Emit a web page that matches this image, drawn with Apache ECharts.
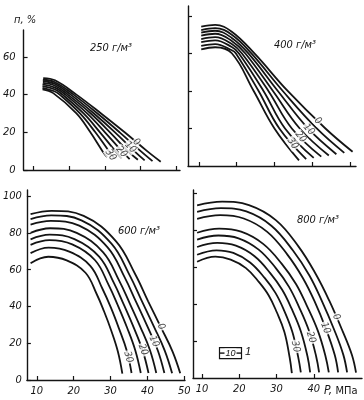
<!DOCTYPE html>
<html><head><meta charset="utf-8">
<script src="https://cdn.jsdelivr.net/npm/echarts@6/dist/echarts.min.js"></script>
<style>html,body{margin:0;padding:0;background:#fff}#c{width:364px;height:400px}</style>
</head><body><div id="c"></div>
<script>
// Curve parameter values (8 curves per panel, outer to inner)
const curveNames = ['0','5','10','15','20','25','30','35'];
const xTicks = [10,20,30,40,50];
const xTicksBR = [10,20,30,40];
const yTicks250 = [0,20,40,60];
const yTicks400 = [20,40,60,80];
const yTicks600 = [0,20,40,60,80,100];
const yTicks800 = [20,40,60,80,100];

// 250 g/m3 : [P, n]
const curves250 = [
 [[12.7,48.8],[16,47.6],[22,40],[28.9,30],[35.5,20],[41.8,10],[45.6,4.4]],
 [[12.6,47.9],[16,46.6],[21.2,40],[27.9,30],[34.1,20],[40,10],[43.3,4.7]],
 [[12.6,47.1],[16,45.7],[20.4,40],[26.9,30],[32.8,20],[38.2,10],[41.1,5.1]],
 [[12.6,46.2],[16,44.7],[19.6,40],[26,30],[31.4,20],[36.4,10],[39.2,5.4]],
 [[12.5,45.4],[16,43.7],[18.9,40],[25,30],[30,20],[34.7,10],[36.9,5.8]],
 [[12.5,44.5],[16,42.7],[18.1,40],[24,30],[28.6,20],[32.9,10],[34.7,6.1]],
 [[12.5,43.6],[15.8,41.8],[17.3,40],[23,30],[27.3,20],[31.1,10],[32.5,6.5]],
 [[12.5,42.8],[15.5,40.8],[22,30],[25.9,20],[29.3,10],[30.6,6.8]]
];
// 400 g/m3
const curves400 = [
 [[10.6,74.3],[14.3,75.2],[18.7,71.6],[24.7,60],[33.5,40],[43.5,20],[50.7,7.6]],
 [[10.6,72.5],[14.3,73.5],[18.7,70],[23.9,60],[32.2,40],[41.2,20],[48.5,7]],
 [[10.6,71.1],[14.3,72.1],[18.7,68.3],[23.1,60],[30.9,40],[38.9,20],[46.4,6.3]],
 [[10.6,69.5],[14.3,70.5],[18.7,66.7],[22.3,60],[29.6,40],[36.7,20],[44.4,5.6]],
 [[10.6,67.7],[14.3,68.7],[18.7,65],[21.4,60],[28.4,40],[34.6,20],[42.4,5]],
 [[10.6,66],[14.3,67],[18.7,63.4],[20.6,60],[27.1,40],[32.8,20],[40.4,4.3]],
 [[10.6,64],[14.3,65],[18.7,61.7],[19.8,60],[25.8,40],[31.3,20],[38.4,3.7]],
 [[10.6,62.2],[14.3,63.3],[18.7,60.1],[24.5,40],[30,20],[36.5,3]]
];
// 600 g/m3
const curves600 = [
 [[8.3,90.2],[14,92],[22.7,89.2],[31.5,75.4],[36.7,57.5],[40.2,42.8],[43.7,28.5],[46.8,15.6],[48.9,3.7]],
 [[8.3,87.5],[13.9,89.5],[22.1,86.8],[30.3,74],[35.2,56.9],[38.5,42.9],[41.8,28.9],[44.7,16],[46.7,3.7]],
 [[8.3,84.5],[13.8,86.5],[21.5,83.9],[29.2,72.1],[33.8,55.9],[36.9,42.6],[40,29.1],[42.8,16.2],[44.6,3.8]],
 [[8.3,80],[13.6,82.5],[20.8,80],[28,69.4],[32.3,54.2],[35.2,41.7],[38.1,28.8],[40.7,16.2],[42.4,3.8]],
 [[8.3,76.5],[13.5,79],[20.2,76.6],[26.9,67.1],[30.9,52.8],[33.6,41],[36.3,28.5],[38.7,16.1],[40.3,3.8]],
 [[8.3,73.5],[13.4,76],[19.6,73.7],[25.8,65.1],[29.5,51.6],[32,40.5],[34.5,28.4],[36.7,16.2],[38.2,3.8]],
 [[8.3,69],[13.2,72],[18.8,69.8],[24.5,62.1],[27.8,49.6],[30.1,39.3],[32.3,27.9],[34.4,15.9],[35.7,3.8]],
 [[8.3,63.5],[13.1,67],[18.1,65],[23.2,58.3],[26.2,46.9],[28.2,37.5],[30.2,26.8],[32,15.4],[33.2,3.5]]
];
// 800 g/m3
const curves800 = [
 [[8.7,93.3],[15.4,95.3],[22.6,93.4],[29.8,85.3],[35.9,71],[40.5,56.2],[44.1,41.9],[47.7,25.3],[50.2,12.4],[51.3,2.9]],
 [[8.7,89.8],[15.1,91.8],[21.9,90],[28.6,82.3],[34.4,68.9],[38.8,55.4],[42.1,41.8],[45.5,25.8],[47.9,12.5],[48.9,3]],
 [[8.7,86],[14.9,88],[21.2,86.2],[27.5,79],[32.9,66.7],[37,54.2],[40.2,41.4],[43.3,26.2],[45.6,12.4],[46.5,3]],
 [[8.7,78.5],[14.6,80.7],[20.5,79.1],[26.4,72.5],[31.4,61.7],[35.2,50.8],[38.1,39.1],[41.1,25.3],[43.1,11.9],[44,3]],
 [[8.7,74.8],[14.4,77],[19.8,75.5],[25.2,69.4],[29.8,59.4],[33.3,49.4],[36,38.5],[38.7,25.5],[40.6,11.8],[41.4,3]],
 [[8.7,70.8],[14.1,73],[19.1,71.5],[24.1,65.8],[28.3,56.7],[31.5,47.7],[34,37.6],[36.5,25.3],[38.3,11.6],[39,3]],
 [[8.7,66.6],[13.9,69],[18.4,67.6],[22.9,62.4],[26.8,54.1],[29.7,46],[32,36.6],[34.2,25.1],[35.8,11.3],[36.5,3]],
 [[8.7,62.8],[13.6,65.6],[17.7,64],[21.8,59.4],[25.3,51.8],[27.9,44.6],[30,35.8],[32.1,24.9],[33.5,11.2],[34.1,2.6]]
];
// curve labels placed on curves: [P, n, text]
const labels250 = [[38.8,14.8,'0'],[37.1,12,'10'],[34.6,9.6,'20'],[31.6,8,'30']];
const labels400 = [[41.5,24,'0'],[39.1,19.5,'10'],[36.9,15.5,'20'],[34.8,12,'30']];
const labels600 = [[43.7,29,'0'],[41.8,21,'10'],[38.8,16.5,'20'],[34.8,12.5,'30']];
const labels800 = [[46.0,33,'0'],[43.1,27,'10'],[39.2,22,'20'],[35.1,17,'30']];

const FONT = "'Liberation Sans Narrow','DejaVu Sans Condensed','Liberation Sans',sans-serif";
const INK = '#141414';
const rot = [[-42,-46,-50,-56],[-45,-48,-52,-56],[-64,-66,-69,-74],[-66,-68,-74,-77]];

const grids = [
 {left:22, top:30, width:158, height:140},
 {left:188, top:6, width:168, height:160},
 {left:25, top:190, width:160, height:190},
 {left:193, top:190, width:169, height:188}
];
const xr = [[7.2,51],[7.1,51.6],[7.3,50.2],[7.6,52.9]];
const yr = [[0,74.3],[0,85.3],[0,103.3],[0,101.6]];
const xt = [xTicks, xTicks, xTicks, xTicksBR];
const xl = [false,false,true,true];
const yt = [yTicks250, yTicks400, yTicks600, yTicks800];
const yl = [true,false,true,false];
const ylm = [8,5,5,5];

const labelStyle = {fontStyle:'italic', fontSize:11, color:INK, fontFamily:FONT};

const xAxis = grids.map((g,i)=>({
  type:'value', gridIndex:i, min:xr[i][0], max:xr[i][1],
  axisLine:{show:true, onZero:false, lineStyle:{color:INK, width:1.4}},
  axisTick:{show:true, inside:true, length:4, customValues:xt[i], lineStyle:{color:INK, width:1.2}},
  axisLabel:Object.assign({show:xl[i], customValues:xt[i], margin:6}, labelStyle),
  splitLine:{show:false}
}));
const yAxis = grids.map((g,i)=>({
  type:'value', gridIndex:i, min:yr[i][0], max:yr[i][1],
  axisLine:{show:true, onZero:false, lineStyle:{color:INK, width:1.4}},
  axisTick:{show:true, inside:true, length:4, customValues:yt[i], lineStyle:{color:INK, width:1.2}},
  axisLabel:Object.assign({show:yl[i], customValues:yt[i], margin:ylm[i]}, labelStyle),
  splitLine:{show:false}
}));

const series = [];
[curves250, curves400, curves600, curves800].forEach((curves, gi)=>{
  curves.forEach((d, ci)=>{
    series.push({type:'line', name:curveNames[ci], xAxisIndex:gi, yAxisIndex:gi, data:d,
      smooth:0.4, symbol:'none', silent:true, z:2,
      lineStyle:{color:INK, width:1.8}});
  });
});
[labels250, labels400, labels600, labels800].forEach((labs, gi)=>{
  series.push({type:'scatter', xAxisIndex:gi, yAxisIndex:gi, symbolSize:0, silent:true, z:5,
    data:labs.map((l,k)=>({value:[l[0],l[1]], label:{rotate:rot[gi][k], formatter:l[2]}})),
    label:{show:true, position:'inside', fontStyle:'italic', fontSize:10, color:INK, fontFamily:FONT,
      backgroundColor:'#fff', padding:[0,1]}});
});

const tStyle = {fontStyle:'italic', fontWeight:'normal', fontSize:11, color:INK, fontFamily:FONT};
const option = {
  animation:false,
  backgroundColor:'#fff',
  grid:grids,
  xAxis, yAxis, series,
  title:[
    {text:'п, %', left:14, top:15, padding:0, textStyle:tStyle},
    {text:'250 г/м³', left:90, top:43, padding:0, textStyle:tStyle},
    {text:'400 г/м³', left:274, top:40, padding:0, textStyle:tStyle},
    {text:'600 г/м³', left:118, top:226, padding:0, textStyle:tStyle},
    {text:'800 г/м³', left:297, top:215, padding:0, textStyle:tStyle},
    {text:'{i|P,} МПа', left:324, top:385, padding:0, textStyle:{fontSize:11, fontWeight:'normal', color:INK, fontFamily:FONT,
      rich:{i:{fontStyle:'italic', fontSize:12, color:INK, fontFamily:FONT}}}}
  ],
  graphic:[
    {type:'group', left:217, top:347, children:[
      {type:'rect', shape:{x:0,y:0,width:22,height:11}, style:{fill:'#fff', stroke:INK, lineWidth:1.2}},
      {type:'line', shape:{x1:0,y1:5.5,x2:22,y2:5.5}, style:{stroke:INK, lineWidth:1.4}},
      {type:'text', x:11, y:5.5, style:{text:'10', fill:INK, font:"italic 9px 'Liberation Sans Narrow', sans-serif", align:'center', verticalAlign:'middle', backgroundColor:'#fff', padding:[0,1]}}
    ]},
    {type:'text', left:245, top:346, style:{text:'1', fill:INK, font:"italic 11px 'Liberation Sans Narrow', sans-serif"}}
  ]
};
const chart = echarts.init(document.getElementById('c'), null, {renderer:'canvas'});
chart.setOption(option);
</script></body></html>
